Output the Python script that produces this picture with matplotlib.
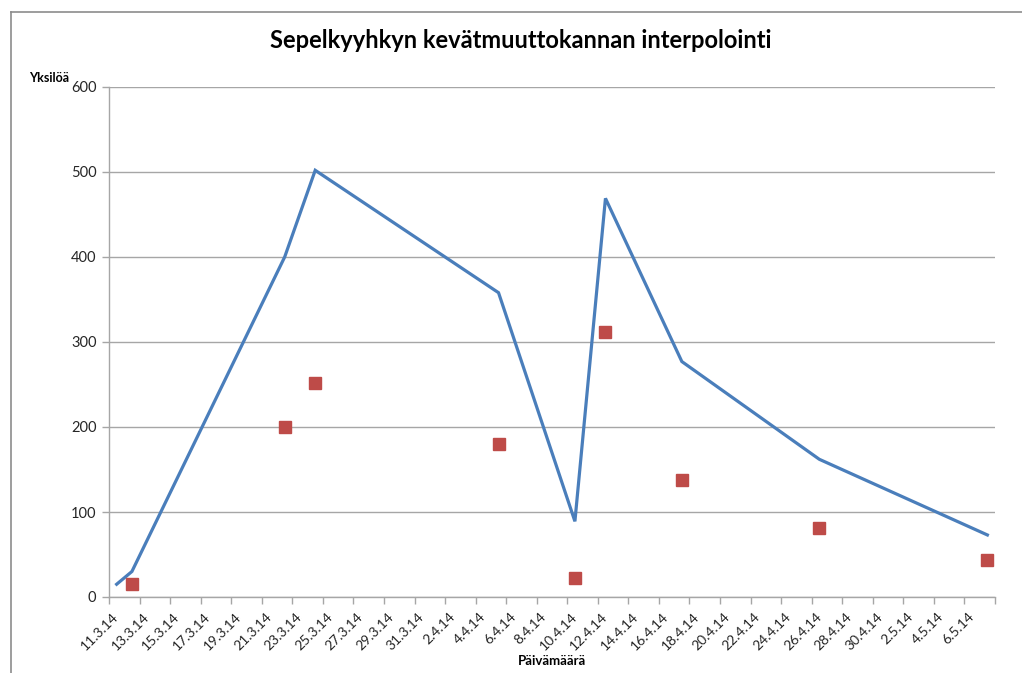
import matplotlib
matplotlib.use('Agg')
import matplotlib.pyplot as plt
import matplotlib.dates as mdates
from matplotlib.lines import Line2D
from datetime import datetime, timedelta

# ---- data ----
line_dates = ['11.3.14', '12.3.14', '22.3.14', '24.3.14', '5.4.14', '10.4.14',
              '12.4.14', '17.4.14', '26.4.14', '7.5.14']
line_values = [15, 30, 400, 502, 358, 89, 469, 277, 162, 73]

obs_dates = ['12.3.14', '22.3.14', '24.3.14', '5.4.14', '10.4.14', '12.4.14',
             '17.4.14', '26.4.14', '7.5.14']
obs_values = [15, 200, 252, 180, 22, 312, 138, 81, 43]

tick_labels = ['11.3.14', '13.3.14', '15.3.14', '17.3.14', '19.3.14', '21.3.14',
               '23.3.14', '25.3.14', '27.3.14', '29.3.14', '31.3.14', '2.4.14',
               '4.4.14', '6.4.14', '8.4.14', '10.4.14', '12.4.14', '14.4.14',
               '16.4.14', '18.4.14', '20.4.14', '22.4.14', '24.4.14', '26.4.14',
               '28.4.14', '30.4.14', '2.5.14', '4.5.14', '6.5.14']
axis_start = '11.3.14'
axis_end = '7.5.14'

y_ticks = [0, 100, 200, 300, 400, 500, 600]

title = 'Sepelkyyhkyn kevätmuuttokannan interpolointi'
x_title = 'Päivämäärä'
y_title = 'Yksilöä'


def parse(s):
    return datetime.strptime(s, '%d.%m.%y')


line_x = [parse(d) for d in line_dates]
obs_x = [parse(d) for d in obs_dates]
tick_x = [parse(d) for d in tick_labels]
half = timedelta(hours=12)
x0 = parse(axis_start) - half
x1 = parse(axis_end) + half

plt.rcParams['font.family'] = ['Lato', 'DejaVu Sans']

fig = plt.figure(figsize=(10.22, 6.73), dpi=100)
ax = fig.add_axes([109 / 1022, 1 - 597 / 673, (995 - 109) / 1022, (597 - 87) / 673])

grid_col = '#a6a6a6'
ax.plot(line_x, line_values, color='#4a7ebb', lw=2.3, zorder=3, solid_joinstyle='miter')
ax.plot(obs_x, obs_values, ls='none', marker='s', ms=8.5, color='#be4b48',
        markeredgecolor='#be4b48', zorder=4)

ax.set_xlim(x0, x1)
ax.set_ylim(0, 600)
ax.set_yticks(y_ticks)
ax.yaxis.grid(True, color=grid_col, lw=1)
ax.set_axisbelow(True)

# labels at slot centres, tick marks at slot boundaries
ax.set_xticks(tick_x)
ax.set_xticklabels(tick_labels, rotation=45, ha='right', va='center',
                   rotation_mode='anchor', fontsize=10, color='#262626')
ax.tick_params(axis='x', which='major', length=0, pad=13)
minor = [t - half for t in tick_x] + [x1]
ax.set_xticks(minor, minor=True)
ax.tick_params(axis='x', which='minor', length=5, color=grid_col, width=1)
ax.tick_params(axis='y', length=5, color=grid_col, width=1, labelsize=10.5,
               labelcolor='#262626', pad=4)

for s in ['top', 'right']:
    ax.spines[s].set_visible(False)
for s in ['left', 'bottom']:
    ax.spines[s].set_color(grid_col)
    ax.spines[s].set_linewidth(1)

fig.text(521 / 1022, 1 - 40 / 673, title, ha='center', va='center',
         fontsize=17, fontweight='bold', color='black')
fig.text(552 / 1022, 1 - 661 / 673, x_title, ha='center', va='center',
         fontsize=9.5, fontweight='bold', color='black')
fig.text(29 / 1022, 1 - 78 / 673, y_title, ha='left', va='center',
         fontsize=9, fontweight='bold', color='black')

# chart area border (left and top visible)
fig.add_artist(Line2D([11 / 1022, 11 / 1022], [0, 1 - 12 / 673], transform=fig.transFigure,
                      color='#8c8c8c', lw=1.2))
fig.add_artist(Line2D([11 / 1022, 1], [1 - 12 / 673, 1 - 12 / 673], transform=fig.transFigure,
                      color='#8c8c8c', lw=1.2))

fig.savefig('out.png', dpi=100)
